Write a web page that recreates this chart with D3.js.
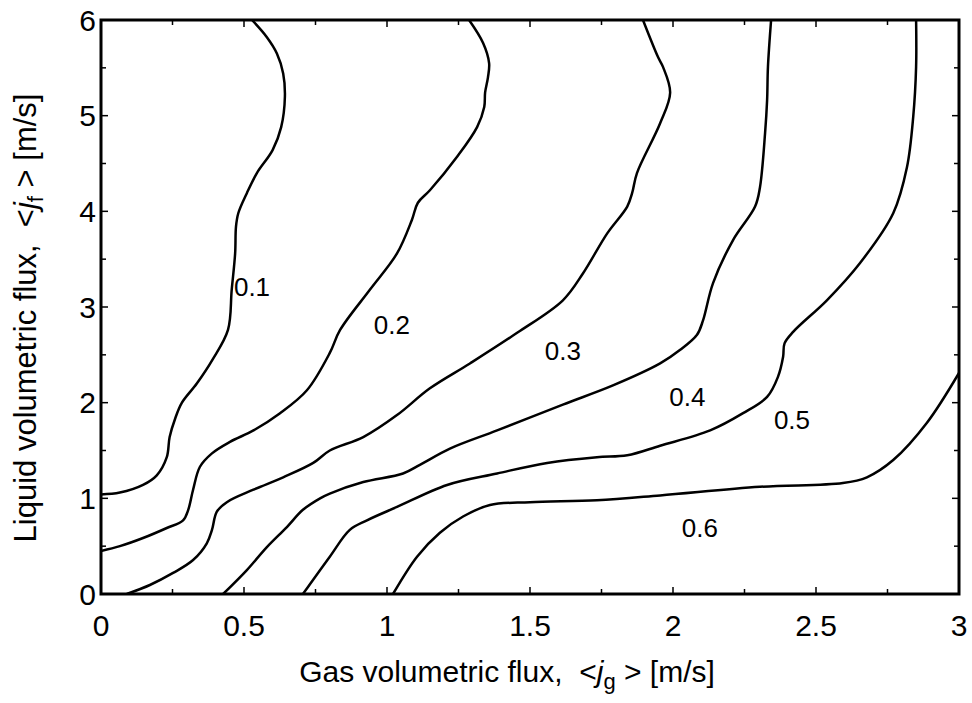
<!DOCTYPE html>
<html>
<head>
<meta charset="utf-8">
<script src="https://cdn.jsdelivr.net/npm/d3@7"></script>
<style>
  body { margin: 0; background: #fff; }
  text { font-family: Arial, "Liberation Sans", sans-serif; fill: #000; }
</style>
</head>
<body>
<div id="chart"></div>
<script>
// contour lines of void fraction, points as [jg, jf]
var c01 = [[0, 1.04], [0.066, 1.06], [0.147, 1.14], [0.195, 1.24], [0.23, 1.43], [0.24, 1.64], [0.26, 1.84],
  [0.283, 2.0], [0.335, 2.2], [0.39, 2.45], [0.444, 2.76], [0.457, 3.18], [0.469, 3.56], [0.472, 3.84],
  [0.48, 3.98], [0.51, 4.19], [0.545, 4.4], [0.60, 4.64], [0.63, 4.88], [0.643, 5.2], [0.637, 5.44],
  [0.615, 5.65], [0.58, 5.82], [0.528, 6.0]];
var c02 = [[0, 0.45], [0.066, 0.50], [0.147, 0.585], [0.23, 0.69], [0.287, 0.77], [0.305, 0.88], [0.322, 1.09],
  [0.346, 1.33], [0.388, 1.47], [0.451, 1.59], [0.533, 1.71], [0.626, 1.89], [0.72, 2.13], [0.80, 2.52],
  [0.836, 2.76], [0.94, 3.18], [1.035, 3.56], [1.087, 3.91], [1.108, 4.09], [1.15, 4.22], [1.245, 4.57],
  [1.315, 4.88], [1.34, 5.09], [1.343, 5.24], [1.353, 5.40], [1.357, 5.55], [1.336, 5.76], [1.287, 6.0]];
var c03 = [[0.09, 0], [0.171, 0.094], [0.252, 0.22], [0.322, 0.355], [0.37, 0.53], [0.388, 0.67], [0.405, 0.86],
  [0.44, 0.96], [0.533, 1.09], [0.637, 1.22], [0.742, 1.37], [0.80, 1.5], [0.917, 1.64], [1.035, 1.87],
  [1.15, 2.15], [1.29, 2.41], [1.455, 2.73], [1.615, 3.07], [1.685, 3.35], [1.77, 3.77], [1.84, 4.05],
  [1.857, 4.19], [1.874, 4.4], [1.955, 4.92], [1.99, 5.24], [1.965, 5.51], [1.948, 5.61], [1.895, 6.0]];
var c04 = [[0.427, 0], [0.51, 0.25], [0.58, 0.49], [0.65, 0.70], [0.706, 0.88], [0.766, 1.0], [0.80, 1.05],
  [0.917, 1.17], [1.056, 1.26], [1.115, 1.35], [1.22, 1.52], [1.385, 1.71], [1.615, 1.98], [1.79, 2.18],
  [1.955, 2.41], [2.024, 2.55], [2.084, 2.71], [2.105, 2.86], [2.14, 3.25], [2.21, 3.70], [2.287, 4.05],
  [2.304, 4.25], [2.322, 4.82], [2.329, 5.16], [2.332, 5.51], [2.343, 6.0]];
var c05 = [[0.706, 0], [0.80, 0.39], [0.87, 0.67], [0.93, 0.77], [1.035, 0.91], [1.21, 1.14], [1.385, 1.26],
  [1.56, 1.37], [1.734, 1.43], [1.84, 1.45], [1.955, 1.55], [2.13, 1.71], [2.245, 1.89], [2.329, 2.06],
  [2.367, 2.27], [2.385, 2.48], [2.39, 2.62], [2.42, 2.74], [2.538, 3.07], [2.654, 3.46], [2.77, 3.98],
  [2.818, 4.46], [2.84, 4.99], [2.85, 5.51], [2.85, 6.0]];
var c06 = [[1.021, 0], [1.105, 0.39], [1.185, 0.64], [1.266, 0.81], [1.36, 0.93], [1.50, 0.96], [1.734, 0.98],
  [1.955, 1.03], [2.304, 1.12], [2.594, 1.16], [2.678, 1.22], [2.77, 1.40], [2.888, 1.79], [3.0, 2.31]];
var contours = [c01, c02, c03, c04, c05, c06];

var levels = ["0.1", "0.2", "0.3", "0.4", "0.5", "0.6"];
var labelPos = [[0.528, 3.21], [1.017, 2.81], [1.615, 2.54], [2.05, 2.06], [2.416, 1.82], [2.094, 0.69]];

var xTicks = [0, 0.5, 1, 1.5, 2, 2.5, 3];
var xMinor = [0.25, 0.75, 1.25, 1.75, 2.25, 2.75];
var yTicks = [0, 1, 2, 3, 4, 5, 6];
var yMinor = [0.5, 1.5, 2.5, 3.5, 4.5, 5.5];

var W = 972, H = 703;
var pLeft = 101, pRight = 959, pTop = 20, pBottom = 594;

var svg = d3.select("#chart").append("svg")
    .attr("width", W)
    .attr("height", H);

var x = d3.scaleLinear().domain([0, 3]).range([pLeft, pRight]);
var y = d3.scaleLinear().domain([0, 6]).range([pBottom, pTop]);

var line = d3.line()
    .x(function (d) { return x(d[0]); })
    .y(function (d) { return y(d[1]); })
    .curve(d3.curveCatmullRom.alpha(0.5));

svg.append("defs").append("clipPath").attr("id", "plot")
    .append("rect")
    .attr("x", pLeft).attr("y", pTop)
    .attr("width", pRight - pLeft).attr("height", pBottom - pTop);

svg.append("g").attr("clip-path", "url(#plot)")
    .selectAll("path")
    .data(contours)
    .enter().append("path")
    .attr("d", line)
    .attr("fill", "none")
    .attr("stroke", "#000")
    .attr("stroke-width", 2.5);

svg.selectAll(".lvl")
    .data(levels)
    .enter().append("text")
    .attr("class", "lvl")
    .attr("x", function (d, i) { return x(labelPos[i][0]); })
    .attr("y", function (d, i) { return y(labelPos[i][1]); })
    .attr("dy", "0.35em")
    .attr("text-anchor", "middle")
    .attr("font-size", "26px")
    .text(function (d) { return d; });

// ticks, all pointing inward on four sides
var tickG = svg.append("g").attr("stroke", "#000").attr("stroke-width", 1.5);
function xt(vals, len) {
    vals.forEach(function (v) {
        tickG.append("line").attr("x1", x(v)).attr("x2", x(v)).attr("y1", pBottom).attr("y2", pBottom - len);
        tickG.append("line").attr("x1", x(v)).attr("x2", x(v)).attr("y1", pTop).attr("y2", pTop + len);
    });
}
function yt(vals, len) {
    vals.forEach(function (v) {
        tickG.append("line").attr("y1", y(v)).attr("y2", y(v)).attr("x1", pLeft).attr("x2", pLeft + len);
        tickG.append("line").attr("y1", y(v)).attr("y2", y(v)).attr("x1", pRight).attr("x2", pRight - len);
    });
}
xt(xTicks, 7); xt(xMinor, 5);
yt(yTicks, 7); yt(yMinor, 5);

svg.append("rect")
    .attr("x", pLeft).attr("y", pTop)
    .attr("width", pRight - pLeft).attr("height", pBottom - pTop)
    .attr("fill", "none")
    .attr("stroke", "#000")
    .attr("stroke-width", 3);

svg.selectAll(".xl")
    .data(xTicks)
    .enter().append("text")
    .attr("class", "xl")
    .attr("x", function (d) { return x(d); })
    .attr("y", pBottom + 42)
    .attr("text-anchor", "middle")
    .attr("font-size", "30px")
    .text(function (d) { return d; });

svg.selectAll(".yl")
    .data(yTicks)
    .enter().append("text")
    .attr("class", "yl")
    .attr("x", pLeft - 5)
    .attr("y", function (d) { return y(d); })
    .attr("dy", "0.35em")
    .attr("text-anchor", "end")
    .attr("font-size", "30px")
    .text(function (d) { return d; });

// axis titles
var xTitle = svg.append("text")
    .attr("x", 507)
    .attr("y", 682)
    .attr("text-anchor", "middle")
    .attr("font-size", "30px");
xTitle.append("tspan").text("Gas volumetric flux,\u00a0\u00a0<");
xTitle.append("tspan").attr("font-style", "italic").text("j");
xTitle.append("tspan").attr("font-size", "22px").attr("dy", 7).text("g");
xTitle.append("tspan").attr("dy", -7).text(" > [m/s]");

var yTitle = svg.append("text")
    .attr("transform", "translate(36," + 318 + ") rotate(-90)")
    .attr("text-anchor", "middle")
    .attr("font-size", "31px");
yTitle.append("tspan").text("Liquid volumetric flux,\u00a0\u00a0<");
yTitle.append("tspan").attr("font-style", "italic").text("j");
yTitle.append("tspan").attr("font-size", "22px").attr("dy", 7).text("f");
yTitle.append("tspan").attr("dy", -7).text(" > [m/s]");
</script>
</body>
</html>
